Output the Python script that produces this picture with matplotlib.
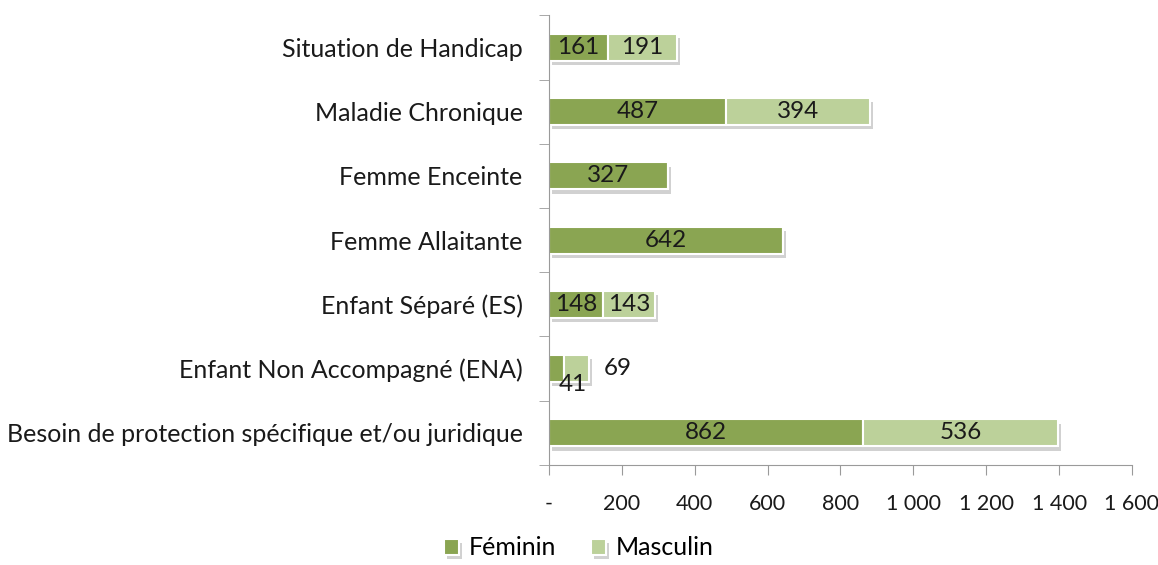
import matplotlib
matplotlib.use("Agg")
import matplotlib.pyplot as plt
import matplotlib.patheffects as pe
from matplotlib.ticker import FuncFormatter
import numpy as np

plt.rcParams['font.family'] = ['Lato', 'DejaVu Sans']

categories = [
    "Situation de Handicap",
    "Maladie Chronique",
    "Femme Enceinte",
    "Femme Allaitante",
    "Enfant Séparé (ES)",
    "Enfant Non Accompagné (ENA)",
    "Besoin de protection spécifique et/ou juridique",
]
feminin = [161, 487, 327, 642, 148, 41, 862]
masculin = [191, 394, 0, 0, 143, 69, 536]
x_ticks = [0, 200, 400, 600, 800, 1000, 1200, 1400, 1600]

col_f = '#8aa552'
col_m = '#bcd19a'
txt = '#1a1a1a'


def fmt(v, pos=None):
    if v == 0:
        return '-'
    return '{:,}'.format(int(v)).replace(',', ' ')


def main():
    fig = plt.figure(figsize=(11.58, 5.65), dpi=100)
    ax = fig.add_axes([0.474, 0.177, 0.5035, 0.796])

    y = np.arange(len(categories))
    h = 0.42
    shadow = [pe.SimplePatchShadow(offset=(2, -3), shadow_rgbFace='#9a9a9a', alpha=0.45), pe.Normal()]

    bf = ax.barh(y, feminin, height=h, color=col_f, edgecolor='white', linewidth=1.5, label='Féminin')
    bm = ax.barh(y, masculin, height=h, left=feminin, color=col_m, edgecolor='white', linewidth=1.5, label='Masculin')
    for b in list(bf) + list(bm):
        if b.get_width() > 0:
            b.set_path_effects(shadow)

    fs = 17.5
    for i in range(len(categories)):
        f, m = feminin[i], masculin[i]
        if categories[i].startswith("Enfant Non"):
            # small values: labels pushed outside like in Excel
            ax.text((f + m) / 2 + 10, y[i] + 0.24, str(f), ha='center', va='center', fontsize=fs, color=txt)
            ax.text(f + m + 80, y[i], str(m), ha='center', va='center', fontsize=fs, color=txt)
            continue
        if f > 0:
            ax.text(f / 2, y[i], str(f), ha='center', va='center', fontsize=fs, color=txt)
        if m > 0:
            ax.text(f + m / 2, y[i], str(m), ha='center', va='center', fontsize=fs, color=txt)

    ax.set_xlim(0, 1600)
    ax.set_ylim(len(categories) - 0.5, -0.5)
    ax.set_xticks(x_ticks)
    ax.xaxis.set_major_formatter(FuncFormatter(fmt))
    ax.set_yticks(y)
    ax.set_yticklabels(categories)
    ax.set_yticks(np.arange(len(categories) + 1) - 0.5, minor=True)

    ax.tick_params(axis='y', which='major', length=0, pad=19, labelsize=18, colors=txt)
    ax.tick_params(axis='y', which='minor', length=7, color='#9a9a9a')
    ax.tick_params(axis='x', which='major', length=7, color='#9a9a9a', pad=14, labelsize=15.5, labelcolor=txt)

    for s in ['top', 'right']:
        ax.spines[s].set_visible(False)
    for s in ['left', 'bottom']:
        ax.spines[s].set_color('#9a9a9a')

    fig.legend(handles=[bf, bm], labels=['Féminin', 'Masculin'], loc='lower center',
               bbox_to_anchor=(0.5, -0.03), ncol=2, frameon=False, fontsize=18,
               handlelength=0.6, handleheight=0.6, handletextpad=0.4, columnspacing=1.4)

    fig.savefig('out.png', dpi=100)


if __name__ == "__main__":
    main()
